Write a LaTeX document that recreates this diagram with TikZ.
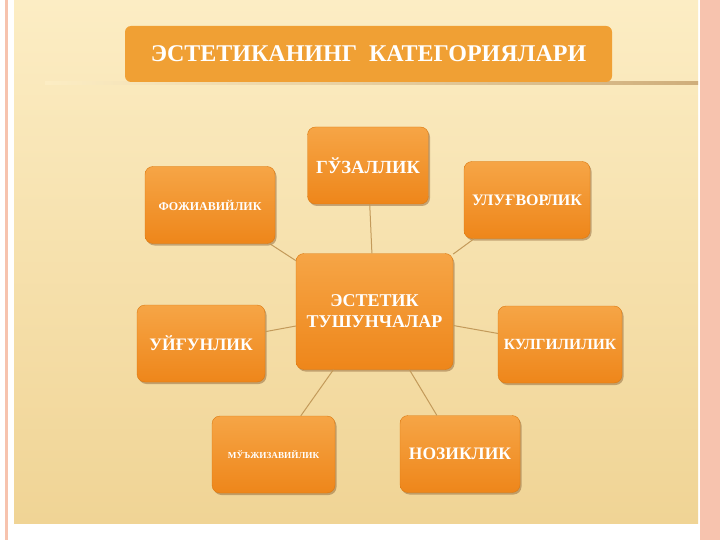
\documentclass[tikz,border=0pt]{standalone}
\usepackage{fontspec}
\setmainfont{Liberation Serif}
\usetikzlibrary{shadows}
\definecolor{cream}{HTML}{FCEDC4}
\definecolor{creamlow}{HTML}{F0D495}
\definecolor{edgepink}{HTML}{F7C3AE}
\definecolor{boxtop}{HTML}{F6A546}
\definecolor{boxbot}{HTML}{EE861A}
\definecolor{boxedge}{HTML}{DC7A12}
\definecolor{titlebox}{HTML}{F0A034}
\definecolor{link}{HTML}{C39A5A}
\def\fs#1{\fontsize{#1}{#1}\selectfont\bfseries}

\begin{document}
\begin{tikzpicture}[x=1pt,y=-1pt,semithick]
	\tikzstyle{concept}=[rounded corners=8pt,draw=boxedge,thin,top color=boxtop,bottom color=boxbot,
		text=white,align=center,minimum width=124pt,minimum height=77pt,inner sep=2pt,
		drop shadow={shadow xshift=1.5pt,shadow yshift=-2pt,fill=brown!70!black,opacity=.45}]
	\tikzstyle{link}=[draw=link,line width=1pt]
	
	% slide background
	\useasboundingbox (0,0) rectangle (720,540);
	\fill[white] (0,0) rectangle (720,540);
	\fill[edgepink] (5,0) rectangle (8,540);
	\fill[edgepink] (700,0) rectangle (720,540);
	\shade[top color=cream,bottom color=creamlow] (14,0) rectangle (698,523);
	\shade[left color=cream,right color=link!80] (45,82) rectangle (698,84.5);
	
	\node[rounded corners=6pt,fill=titlebox,text=white,minimum width=487pt,minimum height=56pt,
		font=\fs{24}] (title) at (368.5,54) {ЭСТЕТИКАНИНГ\ \ КАТЕГОРИЯЛАРИ};
	
	\node[concept,minimum width=157pt,minimum height=116pt,font={\fontsize{18}{21}\selectfont\bfseries}]
		(c) at (374.5,311.5) {ЭСТЕТИК\\ТУШУНЧАЛАР};
	\node[concept,minimum width=121pt,font=\fs{18.5}] (guz) at (368,165.5) {ГЎЗАЛЛИК};
	\node[concept,minimum width=130pt,font=\fs{12}]   (foj) at (210,205)   {ФОЖИАВИЙЛИК};
	\node[concept,minimum width=126pt,font=\fs{16}]   (ulu) at (527,200)   {УЛУҒВОРЛИК};
	\node[concept,minimum width=128pt,font=\fs{17.5}] (uyg) at (201,343.5) {УЙҒУНЛИК};
	\node[concept,font=\fs{15.5}]                     (kul) at (560,344.5) {КУЛГИЛИЛИК};
	\node[concept,minimum width=123pt,font=\fs{9.2}]  (muj) at (273.5,454.5) {МЎЪЖИЗАВИЙЛИК};
	\node[concept,minimum width=120pt,font=\fs{17.5}] (noz) at (460,454)   {НОЗИКЛИК};
	
	\path (c) edge [link] (guz);
	\path (c) edge [link] (foj);
	\path (c) edge [link] (ulu);
	\path (c) edge [link] (uyg);
	\path (c) edge [link] (kul);
	\path (c) edge [link] (muj);
	\path (c) edge [link] (noz);
\end{tikzpicture}
\end{document}
